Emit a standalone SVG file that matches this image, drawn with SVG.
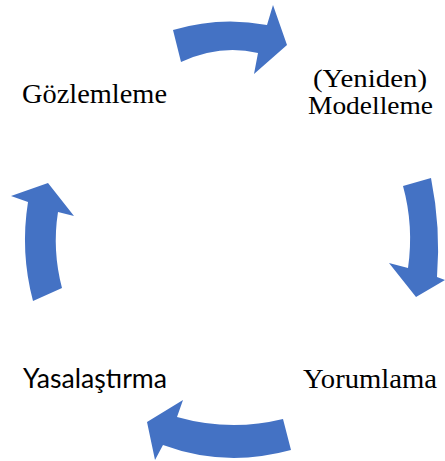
<svg xmlns="http://www.w3.org/2000/svg" width="445" height="461" viewBox="0 0 445 461">
  <style>
    .arrow { fill: #4472C4; }
    .label { fill: #000; }
  </style>
  <rect width="445" height="461" fill="#fff"/>

  <!-- curved cycle arrows -->
  <g id="connectors">
    <path class="arrow" d="M173,30 Q220,16 267,25 L273,5 L287,45 L254,74 L258,53 Q220,44 181,62 Z"/>
    <path class="arrow" d="M403,186 L431,178 Q441,228 437,277 L445,280 L416,297 L389,263 L408,268 Q414,226 403,186 Z"/>
    <path class="arrow" d="M283,419 L291,450 Q225,468 163,445 L155,460 L147,422 L183,400 L177,417 Q230,432 283,419 Z"/>
    <path class="arrow" d="M33,301 L62,288 Q52,250 58,212 L74,216 L48,183 L11,196 L28,202 Q20,252 33,301 Z"/>
  </g>

  <g id="node-gozlemleme" font-family="'Liberation Serif', 'Times New Roman', serif" font-size="28">
    <text class="label" x="94.5" y="103" text-anchor="middle" textLength="145" lengthAdjust="spacingAndGlyphs">Gözlemleme</text>
  </g>
  <g id="node-modelleme" font-family="'Liberation Serif', 'Times New Roman', serif" font-size="26">
    <text class="label" x="370" y="87" text-anchor="middle" textLength="114" lengthAdjust="spacingAndGlyphs">(Yeniden)</text>
    <text class="label" x="370.5" y="114" text-anchor="middle" textLength="125" lengthAdjust="spacingAndGlyphs">Modelleme</text>
  </g>
  <g id="node-yorumlama" font-family="'Liberation Serif', 'Times New Roman', serif" font-size="28">
    <text class="label" x="370" y="388" text-anchor="middle" textLength="134" lengthAdjust="spacingAndGlyphs">Yorumlama</text>
  </g>
  <g id="node-yasalastirma" font-family="Lato, 'Liberation Sans', sans-serif" font-size="27">
    <text class="label" x="95" y="388" text-anchor="middle" textLength="144" lengthAdjust="spacingAndGlyphs">Yasalaştırma</text>
  </g>
</svg>
